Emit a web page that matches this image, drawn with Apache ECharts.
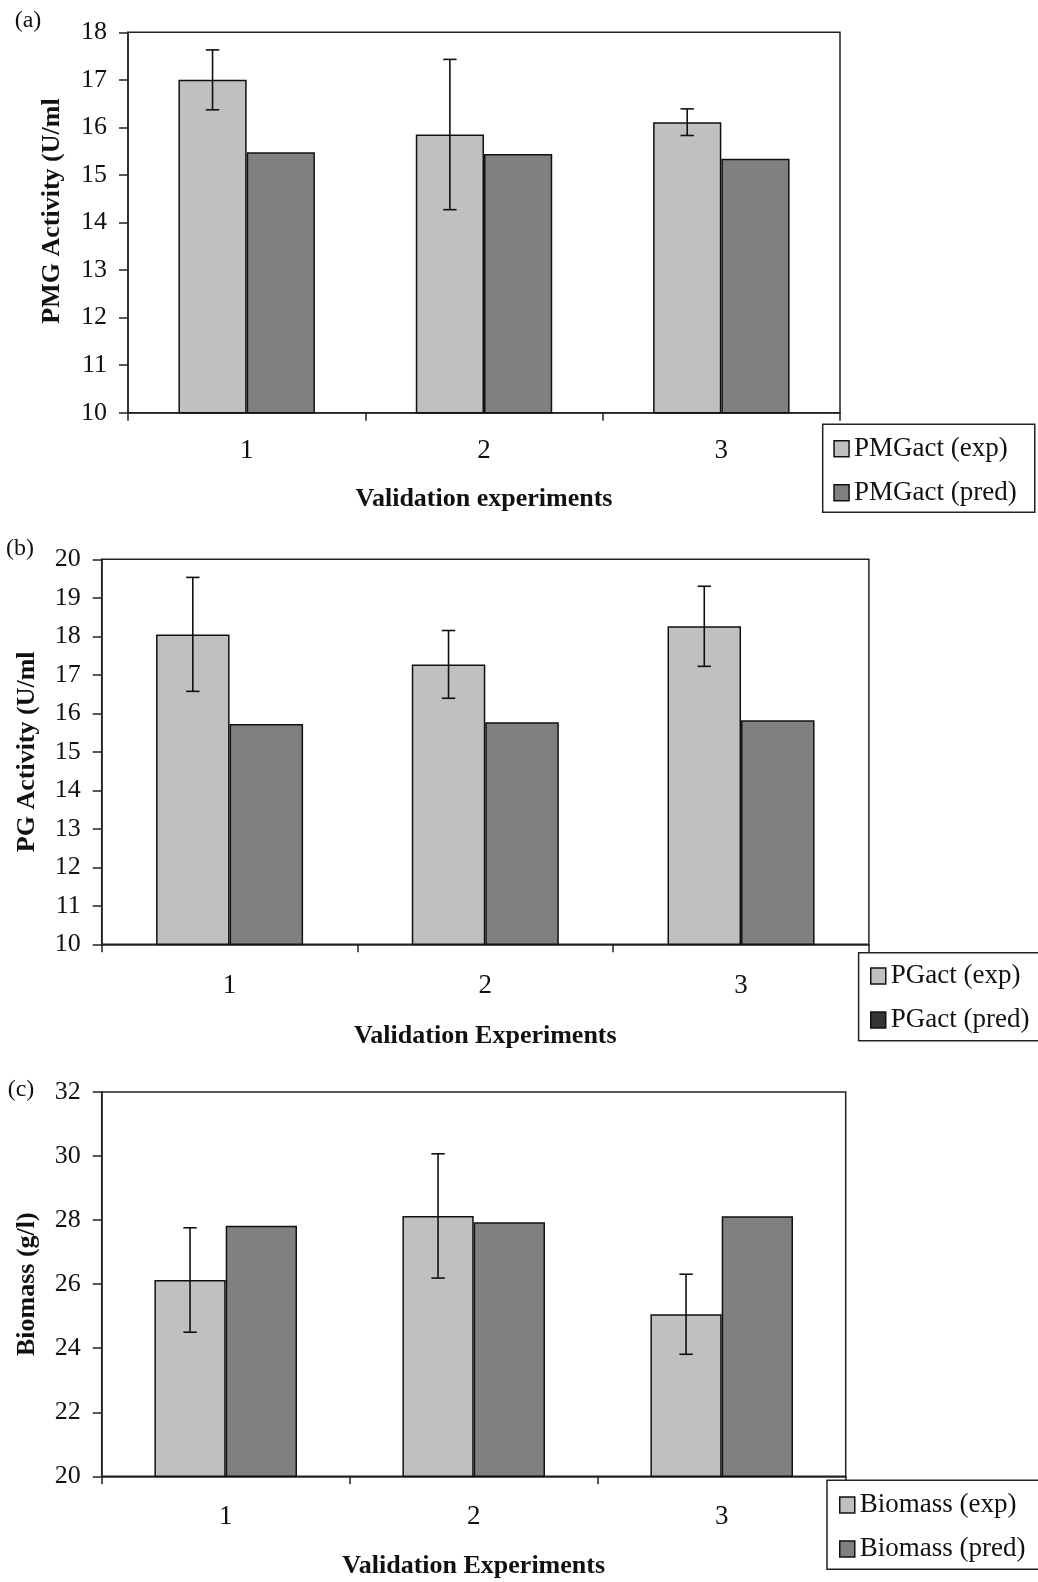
<!DOCTYPE html>
<html>
<head>
<meta charset="utf-8">
<script src="https://cdn.jsdelivr.net/npm/echarts@6/dist/echarts.min.js"></script>
<style>
  html, body { margin: 0; padding: 0; background: #fff; }
  #chart { width: 1038px; height: 1582px; }
</style>
</head>
<body>
<div id="chart"></div>
<script>
// Validation experiments: measured (mean ± error) vs predicted values
const categories = ['1', '2', '3'];

// (a) PMG activity (U/ml)
const pmgExp = [17.00, 15.85, 16.11];
const pmgExpErr = [0.63, 1.58, 0.28];
const pmgPred = [15.48, 15.44, 15.34];
const pmgAxis = [10, 18, 1]; // min, max, step

// (b) PG activity (U/ml)
const pgExp = [18.05, 17.27, 18.26];
const pgExpErr = [1.48, 0.88, 1.04];
const pgPred = [15.72, 15.77, 15.82];
const pgAxis = [10, 20, 1];

// (c) Biomass (g/l)
const bioExp = [26.13, 28.13, 25.06];
const bioExpErr = [1.63, 1.94, 1.25];
const bioPred = [27.82, 27.93, 28.12];
const bioAxis = [20, 32, 2];

const SERIF = '"Liberation Serif", "Times New Roman", serif';
const INK = '#111';
const EXP_COLOR = '#c0c0c0';
const PRED_COLOR = '#808080';
const GAP = 0.425; // bar category gap fraction

const panels = [
  {
    tag: '(a)', tagPos: [28, 21],
    grid: { left: 128, top: 32.3, width: 712, height: 380.4 },
    axis: pmgAxis, exp: pmgExp, err: pmgExpErr, pred: pmgPred,
    names: ['PMGact (exp)', 'PMGact (pred)'], predIcon: PRED_COLOR,
    yName: 'PMG Activity (U/ml', yGap: 63, yShift: 23,
    xName: 'Validation experiments', xGap: 74, labelMargin: 25,
    legend: { left: 822.7, top: 424.3, padding: [11, 18, 6, 10.6] }
  },
  {
    tag: '(b)', tagPos: [20, 549],
    grid: { left: 101.7, top: 559.3, width: 767.2, height: 385 },
    axis: pgAxis, exp: pgExp, err: pgExpErr, pred: pgPred,
    names: ['PGact (exp)', 'PGact (pred)'], predIcon: '#333',
    yName: 'PG Activity (U/ml', yGap: 61.7, yShift: 0,
    xName: 'Validation Experiments', xGap: 79, labelMargin: 28,
    legend: { left: 858.6, top: 952.7, padding: [9.8, 14, 7.2, 11.4] }
  },
  {
    tag: '(c)', tagPos: [21, 1090],
    grid: { left: 101.7, top: 1092, width: 744, height: 384.3 },
    axis: bioAxis, exp: bioExp, err: bioExpErr, pred: bioPred,
    names: ['Biomass (exp)', 'Biomass (pred)'], predIcon: PRED_COLOR,
    yName: 'Biomass (g/l)', yGap: 61.7, yShift: 0,
    xName: 'Validation Experiments', xGap: 77, labelMargin: 27,
    legend: { left: 827, top: 1480.3, padding: [11.2, 16, 6.8, 12] }
  }
];

// Error bar drawn over the "exp" bar (left bar of each pair)
function errorBar(params, api) {
  const i = api.value(0);
  const lo = api.coord([i, api.value(1)]);
  const hi = api.coord([i, api.value(2)]);
  const band = api.size([1, 0])[0];
  const x = lo[0] - band * (1 - GAP) / 4;
  const cap = 6.7;
  const style = { stroke: INK, lineWidth: 1.6 };
  return {
    type: 'group',
    children: [
      { type: 'line', shape: { x1: x, y1: hi[1], x2: x, y2: lo[1] }, style },
      { type: 'line', shape: { x1: x - cap, y1: hi[1], x2: x + cap, y2: hi[1] }, style },
      { type: 'line', shape: { x1: x - cap, y1: lo[1], x2: x + cap, y2: lo[1] }, style }
    ]
  };
}

const option = {
  backgroundColor: '#fff',
  animation: false,
  grid: [], xAxis: [], yAxis: [], series: [], legend: [], graphic: []
};

panels.forEach((p, k) => {
  option.grid.push(Object.assign({
    show: true, borderColor: '#222', borderWidth: 1.5, containLabel: false
  }, p.grid));

  option.xAxis.push({
    type: 'category', gridIndex: k, data: categories, boundaryGap: true,
    name: p.xName, nameLocation: 'middle', nameGap: p.xGap,
    nameTextStyle: { fontFamily: SERIF, fontWeight: 'bold', fontSize: 26, color: INK },
    axisLine: { show: true, lineStyle: { color: '#222', width: 1.5 } },
    axisTick: { show: true, length: 8, interval: 0, alignWithLabel: false, lineStyle: { color: '#222', width: 1.5 } },
    axisLabel: { fontFamily: SERIF, fontSize: 27, color: INK, margin: p.labelMargin, lineHeight: 27 },
    splitLine: { show: false }
  });

  option.yAxis.push({
    type: 'value', gridIndex: k,
    min: p.axis[0], max: p.axis[1], interval: p.axis[2],
    name: p.yName, nameLocation: 'middle', nameGap: p.yGap, nameRotate: 90,
    nameTextStyle: {
      fontFamily: SERIF, fontWeight: 'bold', fontSize: 26, color: INK, lineHeight: 26,
      padding: [0, 0, 0, p.yShift]
    },
    axisLine: { show: true, lineStyle: { color: '#222', width: 1.5 } },
    axisTick: { show: true, length: 9, lineStyle: { color: '#222', width: 1.5 } },
    axisLabel: { fontFamily: SERIF, fontSize: 26, color: INK, margin: 21 },
    splitLine: { show: false }
  });

  const barStyle = (c) => ({ color: c, borderColor: INK, borderWidth: 1.5 });
  option.series.push({
    type: 'bar', name: p.names[0], xAxisIndex: k, yAxisIndex: k,
    data: p.exp, barGap: '0%', barCategoryGap: (GAP * 100) + '%',
    itemStyle: barStyle(EXP_COLOR)
  });
  option.series.push({
    type: 'bar', name: p.names[1], xAxisIndex: k, yAxisIndex: k,
    data: p.pred, barGap: '0%', barCategoryGap: (GAP * 100) + '%',
    itemStyle: barStyle(PRED_COLOR)
  });
  option.series.push({
    type: 'custom', name: p.names[0] + ' error', xAxisIndex: k, yAxisIndex: k,
    renderItem: errorBar, z: 5,
    encode: { x: 0, y: [1, 2] },
    data: p.exp.map((v, i) => [i, v - p.err[i], v + p.err[i]])
  });

  option.legend.push({
    orient: 'vertical', left: p.legend.left, top: p.legend.top,
    padding: p.legend.padding, itemGap: 17,
    itemWidth: 15, itemHeight: 16, icon: 'rect',
    borderColor: '#222', borderWidth: 1.5, backgroundColor: '#fff',
    itemStyle: { borderColor: INK, borderWidth: 1.5 },
    textStyle: { fontFamily: SERIF, fontSize: 27, color: INK, lineHeight: 27, padding: [0, 0, 0, 0] },
    selectedMode: false,
    data: [
      { name: p.names[0], itemStyle: { color: EXP_COLOR } },
      { name: p.names[1], itemStyle: { color: p.predIcon } }
    ]
  });

  option.graphic.push({
    type: 'text', x: p.tagPos[0], y: p.tagPos[1],
    style: {
      text: p.tag, fontFamily: SERIF, fontSize: 24, fill: INK,
      align: 'center', verticalAlign: 'middle'
    }
  });
});

const chart = echarts.init(document.getElementById('chart'), null, { renderer: 'canvas' });
chart.setOption(option);
</script>
</body>
</html>
